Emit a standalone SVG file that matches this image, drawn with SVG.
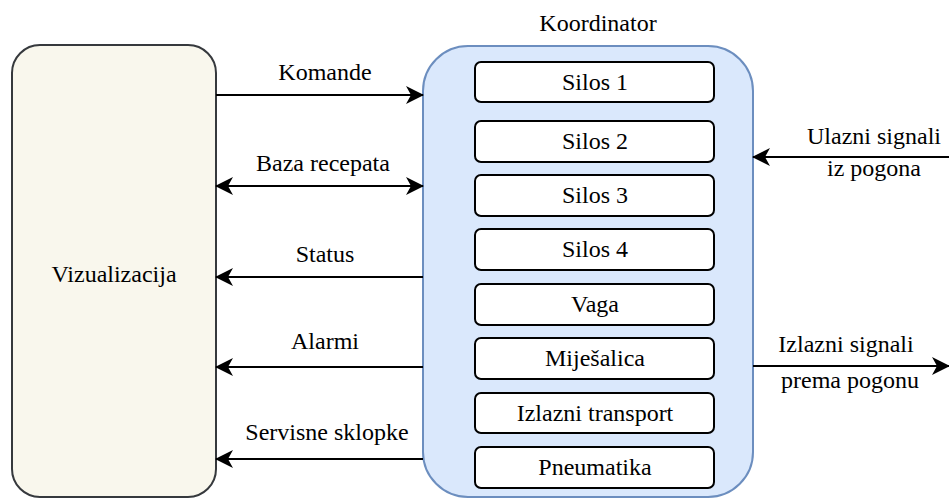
<svg xmlns="http://www.w3.org/2000/svg" width="949" height="499" viewBox="0 0 949 499">
<defs>
<marker id="ah" viewBox="0 0 18 18" refX="17" refY="9" markerWidth="18" markerHeight="18" markerUnits="userSpaceOnUse" orient="auto-start-reverse">
<path d="M0,0 L18,9 L0,18 L5,9 Z" fill="#000"/>
</marker>
</defs>
<rect width="949" height="499" fill="#fff"/>
<g id="vizualizacija">
<rect x="12" y="45" width="204" height="452" rx="28" fill="#f9f7ed" stroke="#36393d" stroke-width="2"/>
<text x="114" y="282" font-family="Liberation Serif" font-size="24" text-anchor="middle">Vizualizacija</text>
</g>
<g id="koordinator">
<rect x="423" y="46" width="330" height="451" rx="45" fill="#dae8fc" stroke="#6c8ebf" stroke-width="2"/>
<text x="598" y="31" font-family="Liberation Serif" font-size="24" text-anchor="middle">Koordinator</text>
</g>
<g id="modules" fill="#fff" stroke="#000" stroke-width="2">
<g id="silos1"><rect x="475" y="62" width="239" height="40" rx="6"/><text x="595" y="90" font-family="Liberation Serif" font-size="24" text-anchor="middle" fill="#000" stroke="none">Silos 1</text></g>
<g id="silos2"><rect x="475" y="121" width="239" height="41" rx="6"/><text x="595" y="149" font-family="Liberation Serif" font-size="24" text-anchor="middle" fill="#000" stroke="none">Silos 2</text></g>
<g id="silos3"><rect x="475" y="175" width="239" height="41" rx="6"/><text x="595" y="203" font-family="Liberation Serif" font-size="24" text-anchor="middle" fill="#000" stroke="none">Silos 3</text></g>
<g id="silos4"><rect x="475" y="229" width="239" height="41" rx="6"/><text x="595" y="257" font-family="Liberation Serif" font-size="24" text-anchor="middle" fill="#000" stroke="none">Silos 4</text></g>
<g id="vaga"><rect x="475" y="284" width="239" height="41" rx="6"/><text x="595" y="312" font-family="Liberation Serif" font-size="24" text-anchor="middle" fill="#000" stroke="none">Vaga</text></g>
<g id="mijesalica"><rect x="475" y="338" width="239" height="41" rx="6"/><text x="595" y="366" font-family="Liberation Serif" font-size="24" text-anchor="middle" fill="#000" stroke="none">Miješalica</text></g>
<g id="izlazni-transport"><rect x="475" y="393" width="239" height="40" rx="6"/><text x="595" y="421" font-family="Liberation Serif" font-size="24" text-anchor="middle" fill="#000" stroke="none">Izlazni transport</text></g>
<g id="pneumatika"><rect x="475" y="447" width="239" height="41" rx="6"/><text x="595" y="475" font-family="Liberation Serif" font-size="24" text-anchor="middle" fill="#000" stroke="none">Pneumatika</text></g>
</g>
<g id="connectors" stroke="#000" stroke-width="2" fill="none">
<line x1="216" y1="95" x2="423" y2="95" marker-end="url(#ah)"/>
<line x1="216" y1="186" x2="423" y2="186" marker-start="url(#ah)" marker-end="url(#ah)"/>
<line x1="423" y1="277" x2="216" y2="277" marker-end="url(#ah)"/>
<line x1="423" y1="367" x2="216" y2="367" marker-end="url(#ah)"/>
<line x1="423" y1="459" x2="216" y2="459" marker-end="url(#ah)"/>
<line x1="949" y1="157" x2="753" y2="157" marker-end="url(#ah)"/>
<line x1="753" y1="366" x2="949" y2="366" marker-end="url(#ah)"/>
</g>
<g id="labels" font-family="Liberation Serif" font-size="24" text-anchor="middle" fill="#000">
<text x="325" y="80" font-family="Liberation Serif">Komande</text>
<text x="323" y="171" font-family="Liberation Serif">Baza recepata</text>
<text x="325" y="262" font-family="Liberation Serif">Status</text>
<text x="325" y="349" font-family="Liberation Serif">Alarmi</text>
<text x="327" y="440" font-family="Liberation Serif">Servisne sklopke</text>
<text x="874" y="144" font-family="Liberation Serif">Ulazni signali</text>
<text x="874" y="176" font-family="Liberation Serif">iz pogona</text>
<text x="846" y="352" font-family="Liberation Serif">Izlazni signali</text>
<text x="850" y="388" font-family="Liberation Serif">prema pogonu</text>
</g>
</svg>
